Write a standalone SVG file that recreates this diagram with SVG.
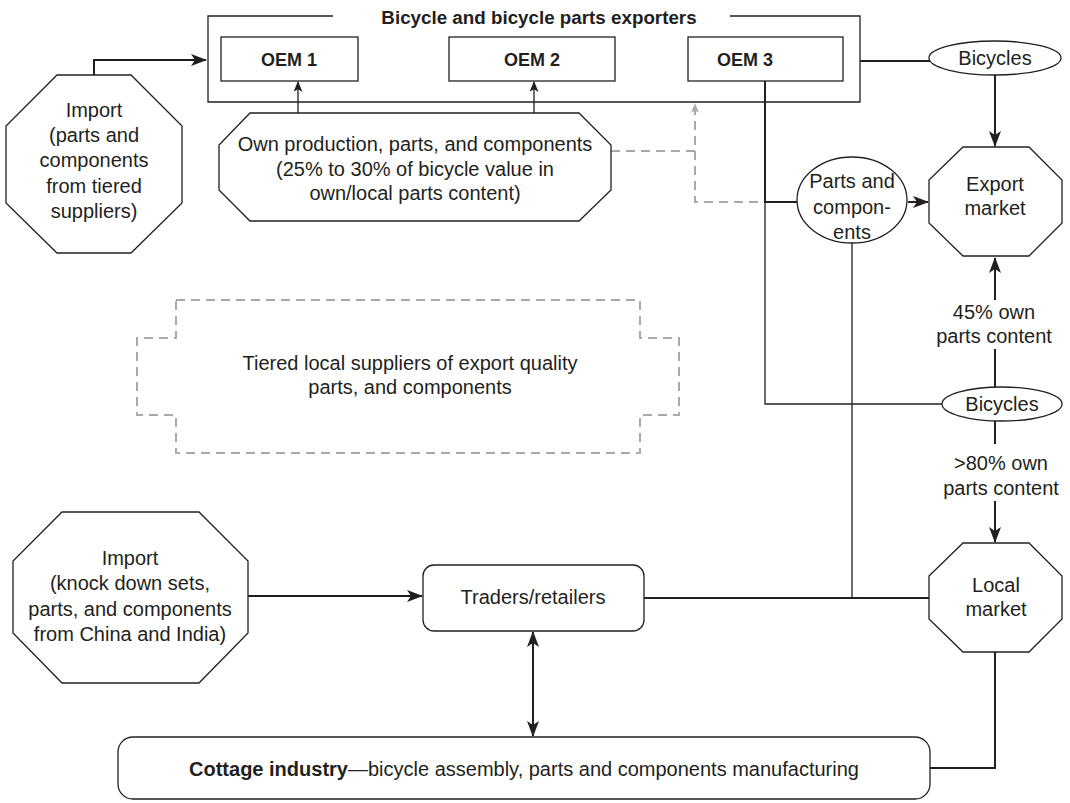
<svg xmlns="http://www.w3.org/2000/svg" width="1070" height="803" viewBox="0 0 1070 803">
<style>
text{font-family:"Liberation Sans",Arial,sans-serif;font-size:20px;fill:#231f20;text-anchor:middle}
.b{font-weight:bold;font-size:18px}
.t{font-weight:bold;font-size:18.8px}
.shape{fill:#fff;stroke:#231f20;stroke-width:1.3}
.thick{fill:none;stroke:#231f20;stroke-width:2}
.thin{fill:none;stroke:#231f20;stroke-width:1.3}
.dash{fill:none;stroke:#a7a9ac;stroke-width:2;stroke-dasharray:9,6}
</style>
<defs>
<marker id="ah" viewBox="0 0 16 12" refX="15" refY="6" markerWidth="16" markerHeight="12" markerUnits="userSpaceOnUse" orient="auto-start-reverse">
<path d="M0,0 L16,6 L0,12 L4,6 z" fill="#231f20"/>
</marker>
<marker id="ahs" viewBox="0 0 12 10" refX="11" refY="5" markerWidth="11" markerHeight="9" markerUnits="userSpaceOnUse" orient="auto">
<path d="M0,0 L12,5 L0,10 L3,5 z" fill="#231f20"/>
</marker>
<marker id="ahg" viewBox="0 0 12 10" refX="11" refY="5" markerWidth="10" markerHeight="8" markerUnits="userSpaceOnUse" orient="auto">
<path d="M0,0 L12,5 L0,10 L3,5 z" fill="#a7a9ac"/>
</marker>
</defs>

<g id="connectors">
<polyline class="thick" points="94,75 94,60 206,60" marker-end="url(#ah)"/>
<line class="thin" x1="298" y1="113" x2="298" y2="82" marker-end="url(#ahs)"/>
<line class="thin" x1="534" y1="113" x2="534" y2="82" marker-end="url(#ahs)"/>
<polyline class="dash" points="611,151 695,151 695,104" marker-end="url(#ahg)"/>
<polyline class="dash" points="695,151 695,202 765,202"/>
<line class="thick" x1="860" y1="61" x2="930" y2="61"/>
<line class="thick" x1="995" y1="75" x2="995" y2="146" marker-end="url(#ah)"/>
<polyline class="thick" points="765,81 765,202 797,202"/>
<line class="thick" x1="908" y1="202" x2="928" y2="202" marker-end="url(#ah)"/>
<polyline class="thin" points="765,202 765,404 942,404"/>
<line class="thin" x1="852" y1="243" x2="852" y2="598"/>
<line class="thick" x1="995" y1="387" x2="995" y2="349"/>
<line class="thick" x1="995" y1="300" x2="995" y2="258" marker-end="url(#ah)"/>
<line class="thick" x1="995" y1="421" x2="995" y2="444"/>
<line class="thick" x1="995" y1="501" x2="995" y2="542" marker-end="url(#ah)"/>
<line class="thick" x1="248" y1="596" x2="422" y2="596" marker-end="url(#ah)"/>
<line class="thick" x1="644" y1="598" x2="929" y2="598"/>
<line class="thick" x1="533" y1="632" x2="533" y2="736" marker-start="url(#ah)" marker-end="url(#ah)"/>
<polyline class="thick" points="995,652 995,768 930,768"/>
</g>

<g id="exporters">
<path class="thin" d="M333,16 L208,16 L208,102 L860,102 L860,16 L730,16"/>
<text class="t" x="539" y="24">Bicycle and bicycle parts exporters</text>
</g>
<g id="oem1">
<rect class="shape" x="221" y="37" width="137" height="44"/>
<text class="b" x="289" y="66">OEM 1</text>
</g>
<g id="oem2">
<rect class="shape" x="449" y="37" width="166" height="44"/>
<text class="b" x="532" y="66">OEM 2</text>
</g>
<g id="oem3">
<rect class="shape" x="688" y="37" width="155" height="44"/>
<text class="b" x="745" y="66">OEM 3</text>
</g>

<g id="import-top">
<polygon class="shape" points="57,75 131,75 182,126 182,203 131,253 57,253 6,203 6,126"/>
<text x="94" y="117">Import</text>
<text x="94" y="142">(parts and</text>
<text x="94" y="167">components</text>
<text x="94" y="193">from tiered</text>
<text x="94" y="218">suppliers)</text>
</g>

<g id="own-production">
<polygon class="shape" points="250,113 579,113 611,145 611,190 579,221 250,221 219,190 219,145"/>
<text x="415" y="151">Own production, parts, and components</text>
<text x="415" y="176">(25% to 30% of bicycle value in</text>
<text x="415" y="200">own/local parts content)</text>
</g>

<g id="bicycles-top">
<ellipse class="shape" cx="995" cy="58" rx="66" ry="17"/>
<text x="995" y="65">Bicycles</text>
</g>

<g id="parts">
<ellipse class="shape" cx="852" cy="200" rx="55" ry="43"/>
<text x="852" y="188">Parts and</text>
<text x="852" y="214">compon-</text>
<text x="852" y="239">ents</text>
</g>

<g id="export-market">
<polygon class="shape" points="963,147 1029,147 1062,180 1062,223 1029,256 963,256 929,223 929,180"/>
<text x="995" y="191">Export</text>
<text x="995" y="215">market</text>
</g>

<g id="label-45">
<text x="994" y="319">45% own</text>
<text x="994" y="343">parts content</text>
</g>

<g id="bicycles-bottom">
<ellipse class="shape" cx="1002" cy="404" rx="60" ry="17"/>
<text x="1002" y="411">Bicycles</text>
</g>

<g id="label-80">
<text x="1001" y="470">&gt;80% own</text>
<text x="1001" y="495">parts content</text>
</g>

<g id="local-market">
<polygon class="shape" points="963,543 1029,543 1062,576 1062,619 1029,652 963,652 929,619 929,576"/>
<text x="996" y="592">Local</text>
<text x="996" y="616">market</text>
</g>

<g id="tiered-suppliers">
<polygon class="dash" points="176,300 640,300 640,338 679,338 679,415 640,415 640,453 176,453 176,415 137,415 137,338 176,338"/>
<text x="410" y="370">Tiered local suppliers of export quality</text>
<text x="410" y="394">parts, and components</text>
</g>

<g id="import-bottom">
<polygon class="shape" points="62,512 199,512 248,561 248,633 199,683 62,683 13,633 13,561"/>
<text x="130" y="565">Import</text>
<text x="130" y="590">(knock down sets,</text>
<text x="130" y="616">parts, and components</text>
<text x="130" y="641">from China and India)</text>
</g>

<g id="traders">
<rect class="shape" x="423" y="565" width="221" height="66" rx="11"/>
<text x="533" y="604">Traders/retailers</text>
</g>

<g id="cottage">
<rect class="shape" x="118" y="737" width="812" height="62" rx="15"/>
<text x="524" y="776"><tspan font-weight="bold">Cottage industry</tspan>—bicycle assembly, parts and components manufacturing</text>
</g>
</svg>
